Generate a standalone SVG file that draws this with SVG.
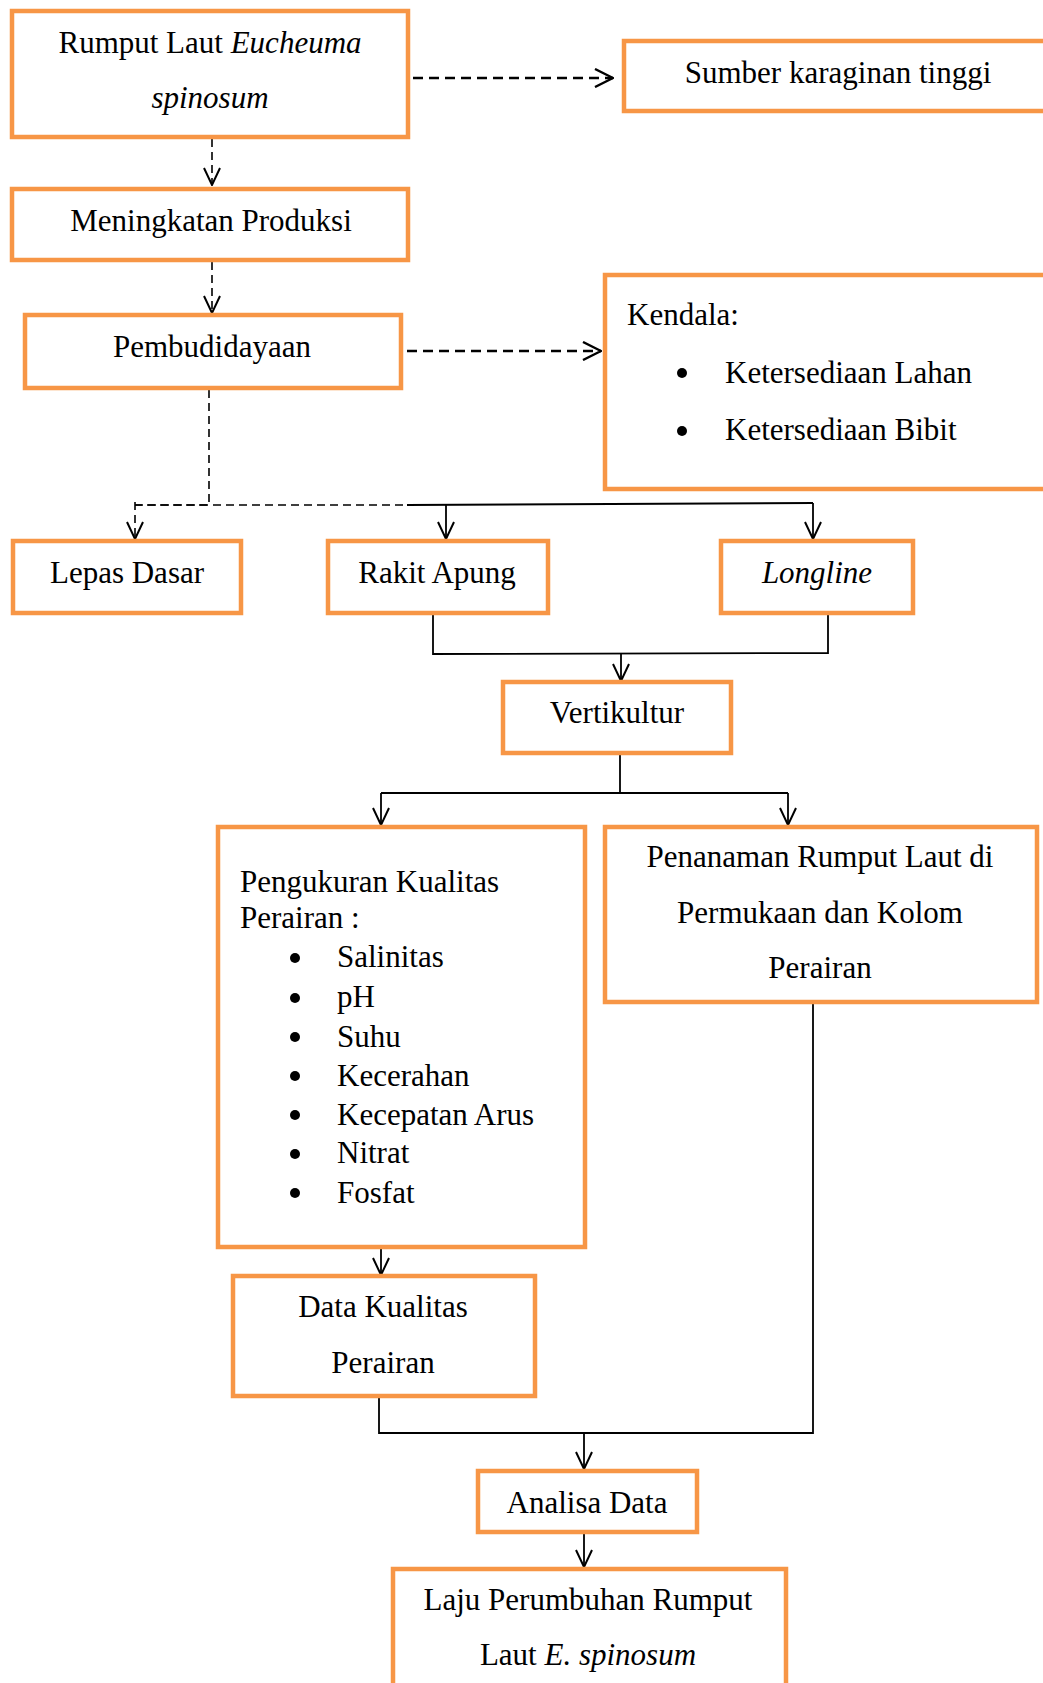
<svg xmlns="http://www.w3.org/2000/svg" width="1043" height="1683" viewBox="0 0 1043 1683">
<style>
.box{fill:#fff;stroke:#F79646;stroke-width:4.5}
text{font-family:"Liberation Serif","Times New Roman",serif;font-size:31px;fill:#000}
.c{text-anchor:middle}
.i{font-style:italic}
.ln{fill:none;stroke:#000;stroke-width:1.8}
.ds{fill:none;stroke:#000;stroke-width:2.5;stroke-dasharray:10 6}
.dt{fill:none;stroke:#000;stroke-width:1.6;stroke-dasharray:8 5}
</style>
<defs>
<marker id="ah" viewBox="0 0 20 20" refX="19" refY="10" markerWidth="20" markerHeight="20" markerUnits="userSpaceOnUse" orient="auto">
<path d="M2,2 L19,10 L2,18" fill="none" stroke="#000" stroke-width="2"/>
</marker>
<marker id="ahr" viewBox="0 0 20 20" refX="19" refY="10" markerWidth="20" markerHeight="20" markerUnits="userSpaceOnUse" orient="auto">
<path d="M1,1 L19,10 L1,19" fill="none" stroke="#000" stroke-width="2.4"/>
</marker>
</defs>
<g id="connectors">
<line class="ds" x1="413" y1="78" x2="613" y2="78" marker-end="url(#ahr)"/>
<line class="dt" x1="212" y1="139" x2="212" y2="185" marker-end="url(#ah)"/>
<line class="dt" x1="212" y1="262" x2="212" y2="313" marker-end="url(#ah)"/>
<line class="ds" x1="407" y1="351" x2="601" y2="351" marker-end="url(#ahr)"/>
<polyline class="dt" points="209,390 209,505 135,505"/>
<line class="dt" x1="135" y1="505" x2="407" y2="505"/>
<line class="dt" x1="135" y1="502" x2="135" y2="539" marker-end="url(#ah)"/>
<polyline class="ln" points="407,505 813,503"/>
<line class="ln" x1="446" y1="504" x2="446" y2="539" marker-end="url(#ah)"/>
<line class="ln" x1="813" y1="503" x2="813" y2="539" marker-end="url(#ah)"/>
<polyline class="ln" points="433,615 433,654 828,653 828,615"/>
<line class="ln" x1="621" y1="654" x2="621" y2="681" marker-end="url(#ah)"/>
<polyline class="ln" points="620,755 620,793"/>
<line class="ln" x1="381" y1="793" x2="788" y2="793"/>
<line class="ln" x1="381" y1="793" x2="381" y2="825" marker-end="url(#ah)"/>
<line class="ln" x1="788" y1="793" x2="788" y2="825" marker-end="url(#ah)"/>
<line class="ln" x1="381" y1="1249" x2="381" y2="1275" marker-end="url(#ah)"/>
<polyline class="ln" points="379,1398 379,1433 813,1433 813,1003"/>
<line class="ln" x1="584" y1="1433" x2="584" y2="1469" marker-end="url(#ah)"/>
<line class="ln" x1="584" y1="1533" x2="584" y2="1567" marker-end="url(#ah)"/>
</g>
<g id="n1"><rect class="box" x="12" y="11" width="396" height="126"/>
<text class="c" x="210" y="53">Rumput Laut <tspan class="i">Eucheuma</tspan></text>
<text class="c i" x="210" y="108">spinosum</text></g>
<g id="n2"><rect class="box" x="624" y="41" width="430" height="70"/>
<text class="c" x="838" y="83">Sumber karaginan tinggi</text></g>
<g id="n3"><rect class="box" x="12" y="189" width="396" height="71"/>
<text class="c" x="211" y="231">Meningkatan Produksi</text></g>
<g id="n4"><rect class="box" x="25" y="315" width="376" height="73"/>
<text class="c" x="212" y="357">Pembudidayaan</text></g>
<g id="n5"><rect class="box" x="605" y="275" width="450" height="214"/>
<text x="627" y="325">Kendala:</text>
<circle cx="682" cy="373" r="5"/><text x="725" y="383">Ketersediaan Lahan</text>
<circle cx="682" cy="431" r="5"/><text x="725" y="440">Ketersediaan Bibit</text></g>
<g id="n6"><rect class="box" x="13" y="541" width="228" height="72"/>
<text class="c" x="127" y="583">Lepas Dasar</text></g>
<g id="n7"><rect class="box" x="328" y="541" width="220" height="72"/>
<text class="c" x="437" y="583">Rakit Apung</text></g>
<g id="n8"><rect class="box" x="721" y="541" width="192" height="72"/>
<text class="c i" x="817" y="583">Longline</text></g>
<g id="n9"><rect class="box" x="503" y="682" width="228" height="71"/>
<text class="c" x="617" y="723">Vertikultur</text></g>
<g id="n10"><rect class="box" x="218" y="827" width="367" height="420"/>
<text x="240" y="892">Pengukuran Kualitas</text>
<text x="240" y="928">Perairan :</text>
<circle cx="295" cy="958" r="5"/><text x="337" y="967">Salinitas</text>
<circle cx="295" cy="998" r="5"/><text x="337" y="1007">pH</text>
<circle cx="295" cy="1037" r="5"/><text x="337" y="1047">Suhu</text>
<circle cx="295" cy="1076" r="5"/><text x="337" y="1086">Kecerahan</text>
<circle cx="295" cy="1115" r="5"/><text x="337" y="1125">Kecepatan Arus</text>
<circle cx="295" cy="1154" r="5"/><text x="337" y="1163">Nitrat</text>
<circle cx="295" cy="1193" r="5"/><text x="337" y="1203">Fosfat</text></g>
<g id="n11"><rect class="box" x="605" y="827" width="432" height="175"/>
<text class="c" x="820" y="867">Penanaman Rumput Laut di</text>
<text class="c" x="820" y="923">Permukaan dan Kolom</text>
<text class="c" x="820" y="978">Perairan</text></g>
<g id="n12"><rect class="box" x="233" y="1276" width="302" height="120"/>
<text class="c" x="383" y="1317">Data Kualitas</text>
<text class="c" x="383" y="1373">Perairan</text></g>
<g id="n13"><rect class="box" x="478" y="1471" width="219" height="61"/>
<text class="c" x="587" y="1513">Analisa Data</text></g>
<g id="n14"><rect class="box" x="393" y="1569" width="393" height="130"/>
<text class="c" x="588" y="1610">Laju Perumbuhan Rumput</text>
<text class="c" x="588" y="1665">Laut <tspan class="i">E. spinosum</tspan></text></g>
</svg>
